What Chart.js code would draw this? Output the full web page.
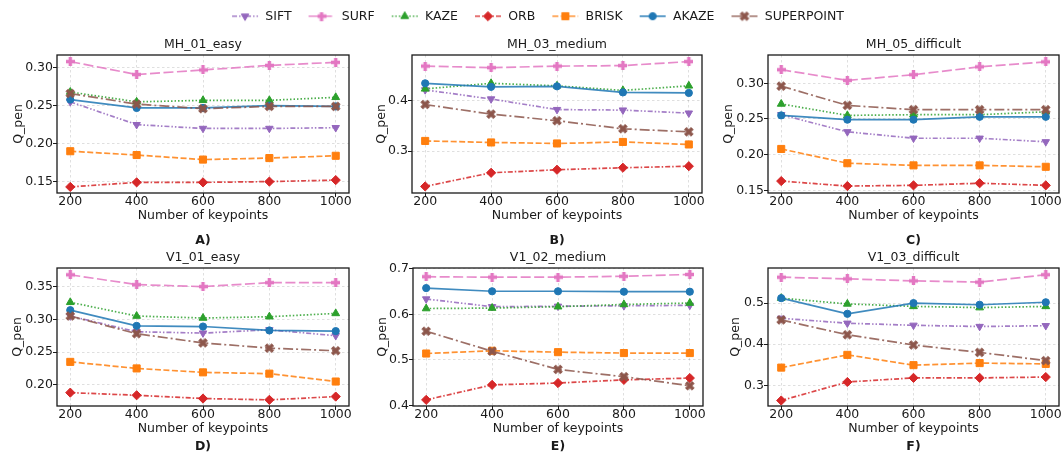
<!DOCTYPE html>
<html>
<head>
<meta charset="utf-8">
<script src="https://cdn.jsdelivr.net/npm/chart.js@4.4.1/dist/chart.umd.min.js"></script>
<style>
  html, body { margin: 0; padding: 0; background: #fff; }
  body { position: relative; width: 1062px; height: 462px; overflow: hidden; }
  canvas { position: absolute; }
</style>
</head>
<body>
<canvas id="legend"></canvas>
<canvas id="p0"></canvas>
<canvas id="p1"></canvas>
<canvas id="p2"></canvas>
<canvas id="p3"></canvas>
<canvas id="p4"></canvas>
<canvas id="p5"></canvas>
<script>
const keypoints = [200, 400, 600, 800, 1000];
const methods = ['SIFT', 'SURF', 'KAZE', 'ORB', 'BRISK', 'AKAZE', 'SUPERPOINT'];

// Q_pen per method, rows follow `methods`
const mh01Easy = [
  [0.255, 0.225, 0.220, 0.220, 0.221],
  [0.308, 0.291, 0.297, 0.303, 0.307],
  [0.268, 0.255, 0.257, 0.257, 0.261],
  [0.143, 0.149, 0.149, 0.150, 0.152],
  [0.190, 0.185, 0.179, 0.181, 0.184],
  [0.258, 0.247, 0.247, 0.250, 0.249],
  [0.266, 0.252, 0.246, 0.249, 0.249],
];
const mh03Medium = [
  [0.421, 0.403, 0.382, 0.381, 0.375],
  [0.468, 0.465, 0.468, 0.469, 0.477],
  [0.423, 0.434, 0.429, 0.420, 0.429],
  [0.230, 0.257, 0.263, 0.267, 0.270],
  [0.320, 0.317, 0.315, 0.318, 0.313],
  [0.434, 0.427, 0.428, 0.416, 0.415],
  [0.392, 0.373, 0.360, 0.344, 0.338],
];
const mh05Difficult = [
  [0.256, 0.232, 0.223, 0.223, 0.218],
  [0.319, 0.304, 0.312, 0.323, 0.330],
  [0.271, 0.255, 0.256, 0.256, 0.260],
  [0.163, 0.156, 0.157, 0.160, 0.157],
  [0.208, 0.188, 0.185, 0.185, 0.183],
  [0.255, 0.249, 0.249, 0.253, 0.253],
  [0.296, 0.269, 0.263, 0.263, 0.263],
];
const v101Easy = [
  [0.305, 0.281, 0.279, 0.284, 0.275],
  [0.368, 0.353, 0.350, 0.356, 0.356],
  [0.326, 0.305, 0.302, 0.304, 0.309],
  [0.188, 0.184, 0.179, 0.177, 0.182],
  [0.235, 0.225, 0.219, 0.217, 0.205],
  [0.314, 0.290, 0.289, 0.283, 0.282],
  [0.305, 0.278, 0.264, 0.256, 0.252],
];
const v102Medium = [
  [0.634, 0.617, 0.618, 0.619, 0.620],
  [0.683, 0.682, 0.682, 0.684, 0.688],
  [0.613, 0.614, 0.617, 0.622, 0.625],
  [0.412, 0.445, 0.449, 0.456, 0.460],
  [0.514, 0.520, 0.517, 0.515, 0.515],
  [0.658, 0.651, 0.651, 0.650, 0.650],
  [0.563, 0.519, 0.479, 0.463, 0.443],
];
const v103Difficult = [
  [0.463, 0.451, 0.446, 0.443, 0.445],
  [0.563, 0.559, 0.554, 0.551, 0.569],
  [0.512, 0.498, 0.492, 0.489, 0.492],
  [0.263, 0.308, 0.318, 0.318, 0.320],
  [0.343, 0.374, 0.349, 0.354, 0.352],
  [0.512, 0.474, 0.500, 0.496, 0.502],
  [0.459, 0.423, 0.398, 0.380, 0.360],
];

const panelTitles = ['MH_01_easy', 'MH_03_medium', 'MH_05_difficult', 'V1_01_easy', 'V1_02_medium', 'V1_03_difficult'];
const panelLetters = ['A)', 'B)', 'C)', 'D)', 'E)', 'F)'];
const xTicks = [200, 400, 600, 800, 1000];
const yTicksMH01 = [0.15, 0.20, 0.25, 0.30];
const yTicksMH03 = [0.3, 0.4];
const yTicksMH05 = [0.15, 0.20, 0.25, 0.30];
const yTicksV101 = [0.20, 0.25, 0.30, 0.35];
const yTicksV102 = [0.4, 0.5, 0.6, 0.7];
const yTicksV103 = [0.3, 0.4, 0.5];

const TEXT = '#1a1a1a';
Chart.defaults.font.family = "'DejaVu Sans', sans-serif";
Chart.defaults.font.size = 12.5;
Chart.defaults.color = TEXT;

// filled "plus" marker (matplotlib 'P'); rotated 45 deg it becomes 'X'
function plusImg(color, size, arm) {
  const c = document.createElement('canvas');
  c.width = size; c.height = size;
  const ctx = c.getContext('2d');
  const h = size / 2, a = arm / 2;
  ctx.fillStyle = color;
  ctx.beginPath();
  ctx.moveTo(h - a, 0); ctx.lineTo(h + a, 0); ctx.lineTo(h + a, h - a);
  ctx.lineTo(size, h - a); ctx.lineTo(size, h + a); ctx.lineTo(h + a, h + a);
  ctx.lineTo(h + a, size); ctx.lineTo(h - a, size); ctx.lineTo(h - a, h + a);
  ctx.lineTo(0, h + a); ctx.lineTo(0, h - a); ctx.lineTo(h - a, h - a);
  ctx.closePath();
  ctx.fill();
  return c;
}

const seriesStyle = [
  { color: '#9467bd', dash: [5, 2, 1.5, 2, 1.5, 2], point: 'triangle', rotation: 180, radius: 4.3 },
  { color: '#e377c2', dash: [10, 3.5], point: plusImg('#e377c2', 9, 3.4), rotation: 0, radius: 5 },
  { color: '#2ca02c', dash: [1.5, 2], point: 'triangle', rotation: 0, radius: 4.5 },
  { color: '#d62728', dash: [5, 2, 1.5, 2], point: 'rectRot', rotation: 0, radius: 4.6 },
  { color: '#ff7f0e', dash: [6, 2.5], point: 'rect', rotation: 0, radius: 5 },
  { color: '#1f77b4', dash: [], point: 'circle', rotation: 0, radius: 3.6 },
  { color: '#8c564b', dash: [10, 3, 2, 3], point: plusImg('#8c564b', 10, 3.6), rotation: 45, radius: 5 },
];

function withAlpha(hex, a) {
  const n = parseInt(hex.slice(1), 16);
  return `rgba(${(n >> 16) & 255}, ${(n >> 8) & 255}, ${n & 255}, ${a})`;
}

function legendIcon(st) {
  const c = document.createElement('canvas');
  c.width = 28; c.height = 12;
  const ctx = c.getContext('2d');
  ctx.strokeStyle = withAlpha(st.color, 0.85);
  ctx.lineWidth = 1.7;
  ctx.setLineDash(st.dash);
  ctx.beginPath(); ctx.moveTo(1, 6); ctx.lineTo(27, 6); ctx.stroke();
  ctx.setLineDash([]);
  ctx.fillStyle = st.color;
  ctx.strokeStyle = st.color;
  ctx.lineWidth = 1;
  Chart.helpers.drawPoint(ctx, { pointStyle: st.point, radius: st.radius, rotation: st.rotation, borderWidth: 1 }, 14, 6);
  return c;
}

const framePlugin = {
  id: 'frame',
  afterDatasetsDraw(chart) {
    const { ctx, chartArea: a } = chart;
    ctx.save();
    ctx.strokeStyle = '#1a1a1a';
    ctx.lineWidth = 1.3;
    ctx.strokeRect(a.left, a.top, a.right - a.left, a.bottom - a.top);
    ctx.restore();
  },
};

// canvas placement for each subplot
const panels = [
  { data: mh01Easy, yTicks: yTicksMH01, dec: 2, yMin: 0.135, yMax: 0.3167, left: 11, top: 34, w: 344, h: 216, axisW: 46, letterPad: 10 },
  { data: mh03Medium, yTicks: yTicksMH03, dec: 1, yMin: 0.217, yMax: 0.490, left: 374, top: 34, w: 334, h: 216, axisW: 38, letterPad: 10 },
  { data: mh05Difficult, yTicks: yTicksMH05, dec: 2, yMin: 0.1463, yMax: 0.3396, left: 721, top: 34, w: 344, h: 216, axisW: 47, letterPad: 10 },
  { data: v101Easy, yTicks: yTicksV101, dec: 2, yMin: 0.1676, yMax: 0.3784, left: 10, top: 247, w: 345, h: 209, axisW: 47, letterPad: 3 },
  { data: v102Medium, yTicks: yTicksV102, dec: 1, yMin: 0.3985, yMax: 0.7022, left: 375, top: 247, w: 334, h: 209, axisW: 38, letterPad: 3 },
  { data: v103Difficult, yTicks: yTicksV103, dec: 1, yMin: 0.2496, yMax: 0.5854, left: 728, top: 247, w: 337, h: 209, axisW: 40, letterPad: 3 },
];

const gridColor = 'rgba(0, 0, 0, 0.16)';

panels.forEach((p, idx) => {
  const canvas = document.getElementById('p' + idx);
  canvas.width = p.w;
  canvas.height = p.h;
  canvas.style.left = p.left + 'px';
  canvas.style.top = p.top + 'px';

  const datasets = methods.map((name, i) => {
    const st = seriesStyle[i];
    return {
      label: name,
      data: keypoints.map((k, j) => ({ x: k, y: p.data[i][j] })),
      borderColor: withAlpha(st.color, 0.85),
      borderWidth: 1.7,
      borderDash: st.dash,
      pointStyle: st.point,
      pointRotation: st.rotation,
      pointRadius: st.radius,
      pointBackgroundColor: st.color,
      pointBorderColor: st.color,
      pointBorderWidth: 1,
      fill: false,
      tension: 0,
      order: methods.length - 1 - i,
    };
  });

  new Chart(canvas, {
    type: 'line',
    data: { datasets },
    options: {
      responsive: false,
      animation: false,
      events: [],
      layout: { padding: { top: 0, right: 6, bottom: 0, left: 0 } },
      plugins: {
        legend: { display: false },
        tooltip: { enabled: false },
        title: {
          display: true, text: panelTitles[idx], fullSize: false,
          font: { size: 12.5, weight: 'normal' }, color: TEXT,
          padding: { top: 3.5, bottom: 2.5 },
        },
        subtitle: {
          display: true, text: panelLetters[idx], position: 'bottom', fullSize: false,
          font: { size: 12.5, weight: 'bold' }, color: TEXT,
          padding: { top: p.letterPad, bottom: 2 },
        },
      },
      scales: {
        x: {
          type: 'linear',
          min: 160,
          max: 1040,
          afterBuildTicks: (s) => { s.ticks = xTicks.map((v) => ({ value: v })); },
          afterFit: (s) => { s.height = 30; },
          ticks: { padding: -3, maxRotation: 0, autoSkip: false, color: TEXT, callback: (v) => String(v) },
          grid: { color: gridColor, lineWidth: 0.8, tickLength: 4, tickColor: '#1a1a1a', tickWidth: 1 },
          border: { display: false, dash: [2.5, 2.5] },
          title: { display: true, text: 'Number of keypoints', padding: 0, color: TEXT },
        },
        y: {
          min: p.yMin,
          max: p.yMax,
          afterBuildTicks: (s) => { s.ticks = p.yTicks.map((v) => ({ value: v })); },
          afterFit: (s) => { s.width = p.axisW; },
          ticks: { padding: 0, color: TEXT, callback: (v) => Number(v).toFixed(p.dec) },
          grid: { color: gridColor, lineWidth: 0.8, tickLength: 4, tickColor: '#1a1a1a', tickWidth: 1 },
          border: { display: false, dash: [2.5, 2.5] },
          title: { display: true, text: 'Q_pen', padding: 0, color: TEXT },
        },
      },
    },
    plugins: [framePlugin],
  });
});

// shared legend across the top of the figure
// (canvas kept tall: Chart.js caps a top box at half the canvas height)
const legendCanvas = document.getElementById('legend');
legendCanvas.width = 1062;
legendCanvas.height = 100;
legendCanvas.style.left = '0px';
legendCanvas.style.top = '-6px';
const icons = seriesStyle.map(legendIcon);

new Chart(legendCanvas, {
  type: 'line',
  data: { datasets: methods.map((name) => ({ label: name, data: [] })) },
  options: {
    responsive: false,
    animation: false,
    events: [],
    layout: { padding: { left: 13 } },
    scales: { x: { display: false }, y: { display: false } },
    plugins: {
      tooltip: { enabled: false },
      legend: {
        position: 'top',
        labels: {
          usePointStyle: true,
          pointStyleWidth: 28,
          padding: 16,
          color: TEXT,
          font: { size: 12.5 },
          generateLabels: (chart) => chart.data.datasets.map((ds, i) => ({
            text: ds.label,
            pointStyle: icons[i],
            fillStyle: 'transparent',
            strokeStyle: 'transparent',
            lineWidth: 0,
            hidden: false,
            datasetIndex: i,
            fontColor: TEXT,
          })),
        },
      },
    },
  },
});
</script>
</body>
</html>
